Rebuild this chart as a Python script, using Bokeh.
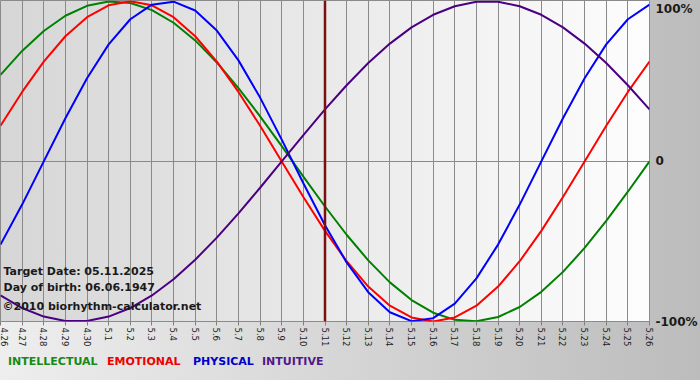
import math
from bokeh.plotting import figure
from bokeh.layouts import column
from bokeh.models import (ColumnDataSource, Span, Label, FixedTicker, Range1d,
                          LinearAxis, Div)
from bokeh.embed import file_html
from bokeh.resources import INLINE

# ---- data (day by day) ----
date_labels = ["4.26", "4.27", "4.28", "4.29", "4.30", "5.1", "5.2", "5.3", "5.4", "5.5",
               "5.6", "5.7", "5.8", "5.9", "5.10", "5.11", "5.12", "5.13", "5.14", "5.15",
               "5.16", "5.17", "5.18", "5.19", "5.20", "5.21", "5.22", "5.23", "5.24", "5.25", "5.26"]
days = list(range(len(date_labels)))

intellectual = [0.5406, 0.6900, 0.8146, 0.9096, 0.9718, 0.9989, 0.9898, 0.9450, 0.8660, 0.7557,
                0.6182, 0.4582, 0.2817, 0.0951, -0.0951, -0.2817, -0.4582, -0.6182, -0.7557, -0.8660,
                -0.9450, -0.9898, -0.9989, -0.9718, -0.9096, -0.8146, -0.6900, -0.5406, -0.3717, -0.1893, 0.0]
emotional = [0.2225, 0.4339, 0.6235, 0.7818, 0.9010, 0.9749, 1.0, 0.9749, 0.9010, 0.7818,
             0.6235, 0.4339, 0.2225, 0.0, -0.2225, -0.4339, -0.6235, -0.7818, -0.9010, -0.9749,
             -1.0, -0.9749, -0.9010, -0.7818, -0.6235, -0.4339, -0.2225, 0.0, 0.2225, 0.4339, 0.6235]
physical = [-0.5196, -0.2698, 0.0, 0.2698, 0.5196, 0.7308, 0.8879, 0.9791, 0.9977, 0.9423,
            0.8170, 0.6310, 0.3984, 0.1362, -0.1362, -0.3984, -0.6310, -0.8170, -0.9423, -0.9977,
            -0.9791, -0.8879, -0.7308, -0.5196, -0.2698, 0.0, 0.2698, 0.5196, 0.7308, 0.8879, 0.9791]
intuitive = [-0.8372, -0.9158, -0.9694, -0.9966, -0.9966, -0.9694, -0.9158, -0.8372, -0.7357, -0.6142,
             -0.4759, -0.3247, -0.1646, 0.0, 0.1646, 0.3247, 0.4759, 0.6142, 0.7357, 0.8372,
             0.9158, 0.9694, 0.9966, 0.9966, 0.9694, 0.9158, 0.8372, 0.7357, 0.6142, 0.4759, 0.3247]
target_index = 15
y_ticks = [-1, 0, 1]
y_tick_labels = ["-100%", "0", "\n100%"]
info_lines = ["Target Date: 05.11.2025", "Day of birth: 06.06.1947", "\u00a92010 biorhythm-calculator.net"]
legend_names = ["INTELLECTUAL", "EMOTIONAL", "PHYSICAL", "INTUITIVE"]
colors = ["#008000", "#ff0000", "#0000ff", "#4b0082"]
legend_colors = ["#158a15", "#ee0000", "#0000cc", "#52178a"]

FONT = "DejaVu Sans"

p = figure(width=700, height=352, output_backend="svg", toolbar_location=None,
           x_range=Range1d(0, len(days) - 1), y_range=Range1d(-1.0, 1.005),
           min_border_left=0, min_border_right=50, min_border_top=0, min_border_bottom=31)
p.styles = {
    "background": "linear-gradient(to right, #d6d6d6, #fdfdfd) 0 0 / 650px 321px no-repeat, "
                  "linear-gradient(to right, #eeeeee, #bcbcbc)",
}
p.background_fill_alpha = 0
p.border_fill_alpha = 0
p.outline_line_color = "#8a8a8a"

p.yaxis.visible = False
xa = p.xaxis[0]
xa.ticker = FixedTicker(ticks=days)
xa.major_label_overrides = {d: lbl for d, lbl in zip(days, date_labels)}
xa.major_label_orientation = -math.pi / 2
xa.axis_line_color = None
xa.major_tick_line_color = "#808080"
xa.major_tick_out = 4
xa.major_tick_in = 0
xa.minor_tick_line_color = None
xa.major_label_text_font = FONT
xa.major_label_text_font_size = "8.5px"
xa.major_label_text_color = "#222222"
xa.major_label_standoff = 2

ra = LinearAxis(ticker=FixedTicker(ticks=y_ticks),
                major_label_overrides={t: l for t, l in zip(y_ticks, y_tick_labels)})
ra.axis_line_color = None
ra.major_tick_line_color = None
ra.minor_tick_line_color = None
ra.major_label_standoff = 0
ra.major_label_text_font = FONT
ra.major_label_text_font_style = "bold"
ra.major_label_text_font_size = "12px"
ra.major_label_text_line_height = 0.1
ra.major_label_text_color = "#1a1a1a"
p.add_layout(ra, "right")

p.xgrid.ticker = FixedTicker(ticks=days)
p.xgrid.grid_line_color = "#8a8a8a"
p.ygrid.ticker = FixedTicker(ticks=[0])
p.ygrid.grid_line_color = "#8a8a8a"

src = ColumnDataSource(dict(x=days, intel=intellectual, emo=emotional, phys=physical, intu=intuitive))
for col, c in zip(["intel", "emo", "phys", "intu"], colors):
    p.line("x", col, source=src, line_color=c, line_width=2)

p.add_layout(Span(location=days[target_index], dimension="height", line_color="#7a1010", line_width=2.5))

# info texts (screen units relative to frame bottom-left)
for txt, yy, xx in zip(info_lines, [50, 34, 15], [3, 3, 2]):
    p.add_layout(Label(x=xx, y=yy, x_units="screen", y_units="screen", text=txt,
                       text_font=FONT, text_font_style="bold", text_font_size="11px",
                       text_color="#1a1a1a", text_baseline="middle"))

# legend below the chart
widths = [99, 86, 69, 80]
spans = "".join(
    f'<span style="display:inline-block;width:{w}px;color:{c}">{n}</span>'
    for n, c, w in zip(legend_names, legend_colors, widths))
legend = Div(text=spans, width=700, height=28, margin=0,
             styles={"background": "linear-gradient(to right, #eeeeee, #bcbcbc)",
                     "font-family": FONT, "font-weight": "bold", "font-size": "11px",
                     "line-height": "13px", "padding-top": "3px", "padding-left": "8px",
                     "box-sizing": "border-box", "white-space": "nowrap"})

layout = column(p, legend, spacing=0)
open("out.html", "w").write(file_html(layout, INLINE))
